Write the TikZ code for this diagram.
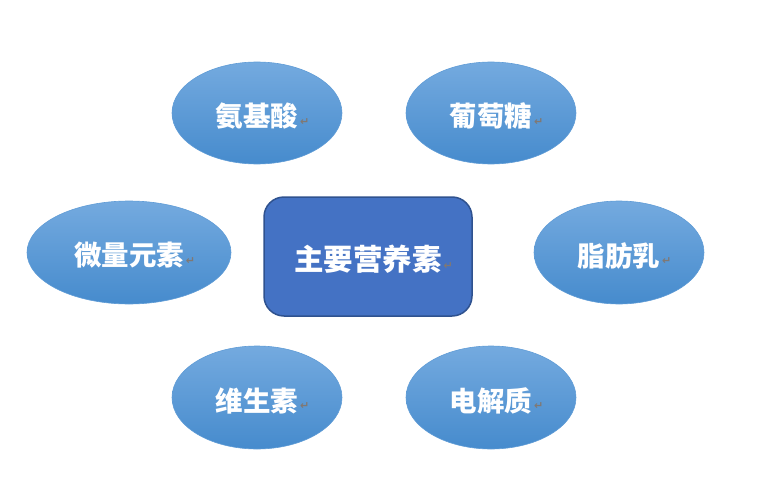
\documentclass[tikz,border=0pt]{standalone}
\usepackage{fontspec}
\newfontfamily\cjk{Noto Sans CJK SC}
\newfontfamily\dejavu{DejaVu Sans}
\usetikzlibrary{shapes.geometric}
\definecolor{elltop}{RGB}{116,170,223}
\definecolor{ellbot}{RGB}{70,139,205}
\definecolor{elledge}{RGB}{96,156,214}
\definecolor{boxfill}{RGB}{68,114,196}
\definecolor{boxedge}{RGB}{47,82,143}
\definecolor{markgray}{RGB}{128,120,115}
\newcommand{\pmark}{\rlap{\raisebox{0.05em}{\dejavu\fontsize{11}{11}\selectfont\color{markgray}\,↵}}}
\newcommand{\lowtxt}[1]{\raisebox{-3pt}[\height][\depth]{#1}}
\tikzset{
  nutr/.style={ellipse, minimum width=170pt, minimum height=102pt, inner sep=0pt,
    top color=elltop, bottom color=ellbot, draw=elledge, line width=0.6pt,
    text=white, font=\cjk\bfseries\fontsize{27.5}{30}\selectfont},
  mainbox/.style={rectangle, rounded corners=20pt, minimum width=208pt, minimum height=119pt,
    fill=boxfill, draw=boxedge, line width=1.5pt, inner sep=0pt,
    text=white, font=\cjk\bfseries\fontsize{29.5}{32}\selectfont}
}
\begin{document}
\begin{tikzpicture}[x=1pt,y=-1pt]
\useasboundingbox (0,0) rectangle (765,495);
\node[mainbox] (main) at (368,256.5) {\lowtxt{主要营养素\pmark}};
\node[nutr] (amino) at (257,113) {\lowtxt{氨基酸\pmark}};
\node[nutr] (glucose) at (491,113) {\lowtxt{葡萄糖\pmark}};
\node[nutr, minimum width=204pt, minimum height=103pt] (trace) at (129,252.5) {\lowtxt{微量元素\pmark}};
\node[nutr, minimum height=103pt] (fat) at (619,252.5) {\lowtxt{脂肪乳\pmark}};
\node[nutr, minimum height=103pt] (vit) at (257,397.5) {\lowtxt{维生素\pmark}};
\node[nutr, minimum height=103pt] (elec) at (491,397.5) {\lowtxt{电解质\pmark}};
\end{tikzpicture}
\end{document}
